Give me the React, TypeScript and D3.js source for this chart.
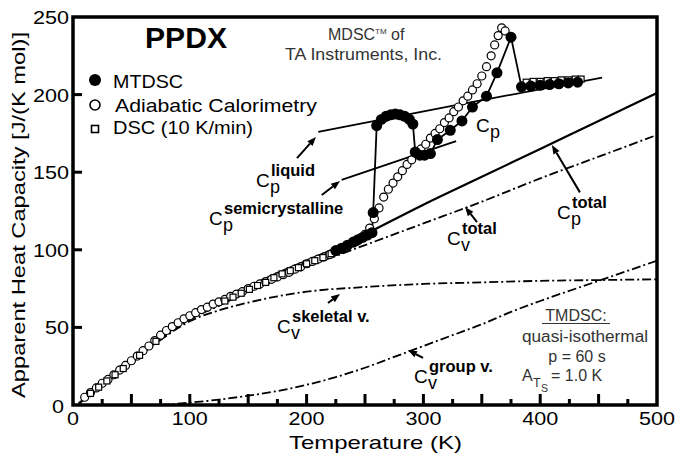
import * as d3 from 'd3';

// ---- data (T in K, Cp in J/(K mol)) ----
const xTicks = [0, 100, 200, 300, 400, 500];
const yTicks = [0, 50, 100, 150, 200, 250];

const cpTotal: [number, number][] = [
  [5, 1], [25, 13], [50, 28], [75, 43], [100, 57], [125, 66], [150, 76], [175, 85],
  [200, 93], [225, 101], [250, 110], [300, 129], [350, 147], [400, 165], [450, 183], [500, 201],
];
const cvTotal: [number, number][] = [
  [5, 1], [25, 13], [50, 28], [75, 42], [100, 55], [125, 64], [150, 73], [175, 81],
  [200, 89], [225, 96], [250, 103], [300, 117], [350, 131], [400, 146], [450, 160], [500, 174],
];
const cvSkeletal: [number, number][] = [
  [5, 1], [25, 13], [50, 28], [75, 42], [100, 54], [125, 61], [150, 66], [175, 70],
  [200, 73], [250, 76], [300, 78], [350, 79], [400, 80], [450, 80.5], [500, 81],
];
const cvGroup: [number, number][] = [
  [75, 0], [100, 1.5], [125, 3.5], [150, 6], [175, 9], [200, 13], [225, 18], [250, 24],
  [275, 31], [300, 38], [325, 45], [350, 52], [375, 60], [400, 67], [450, 80], [500, 93],
];
const cpLiquid: [number, number][] = [[210, 176], [330, 193.5], [453, 211]];
const cpSemicryst: [number, number][] = [[230, 145], [328, 170]];

const mtdsc: [number, number][] = [
  [225, 99.5], [230, 101], [235, 103], [240, 105], [244, 106.5], [248, 108], [252, 109.5],
  [256, 111], [257, 124], [260, 180], [264, 184], [268, 186], [272, 187], [276, 187.5],
  [280, 187], [284, 186], [288, 184], [291, 181], [293, 163], [297, 161], [301, 161],
  [306, 162], [312, 171], [323, 177], [333, 183], [342, 192], [354, 199], [363, 214],
  [375, 237], [384, 205], [392, 205.5], [400, 206], [408, 206.5], [416, 207], [424, 207.5], [432, 208],
];
const adiabatic: [number, number][] = [
  [10, 5], [15, 8], [20, 11], [25, 14], [30, 16.5], [35, 19.5], [40, 22.5], [45, 25.5],
  [50, 28.5], [55, 31.5], [60, 35], [65, 38], [70, 41.5], [75, 45], [80, 48], [85, 50.5],
  [90, 53], [95, 55.5], [100, 57.5], [105, 59.5], [110, 61.5], [115, 63], [120, 65],
  [125, 66.5], [130, 68], [135, 70], [140, 71.5], [145, 73], [150, 75], [155, 76.5],
  [160, 78], [165, 79.5], [170, 81], [175, 82.5], [180, 84], [185, 85.5], [190, 87.5],
  [195, 89], [200, 91], [205, 92.5], [210, 94], [215, 95.5], [220, 97], [225, 99],
  [230, 100.5], [235, 102.5], [240, 104.5], [245, 107], [250, 110], [254, 114], [258, 120],
  [262, 127], [266, 134], [270, 139], [274, 143], [278, 147], [282, 151], [286, 155],
  [290, 158], [294, 162], [298, 165], [302, 168], [306, 172], [310, 175], [314, 178],
  [318, 182], [322, 185], [326, 189], [330, 192], [334, 196], [338, 199], [342, 203],
  [346, 207], [350, 212], [354, 218], [358, 225], [361, 232], [364, 238], [367, 243], [370, 241],
];
const dsc: [number, number][] = [
  [15, 7.5], [22, 11.5], [29, 15.5], [36, 19.5], [43, 23.5], [57, 32], [71, 41],
  [130, 67], [137, 69.5], [144, 72], [151, 74.5], [158, 77], [165, 79], [172, 82],
  [179, 84.5], [186, 86.5], [193, 88.5], [200, 91], [207, 93], [214, 95], [221, 97.5],
  [228, 100], [235, 102], [242, 105],
  [388, 208], [394, 208.5], [400, 208.5], [406, 209], [412, 209], [418, 209.5],
  [424, 209.5], [430, 210], [435, 210],
];

// arrows [tail, tip] in data units
const arrows: [number, number][][] = [
  [[191.8, 159.1], [208, 172.7]],
  [[213, 135.3], [228.6, 144.3]],
  [[434, 137], [410, 167.5]],
  [[345.9, 117.9], [335.6, 127.6]],
  [[218.3, 65.7], [228.6, 71.5]],
  [[299.7, 30.3], [286.8, 35.4]],
];

const FONT = '"Liberation Sans", Arial, Helvetica, sans-serif';

const x = d3.scaleLinear().domain([0, 500]).range([73, 657]);
const y = d3.scaleLinear().domain([0, 250]).range([405, 17]);

const smooth = d3.line<[number, number]>().x(d => x(d[0])).y(d => y(d[1])).curve(d3.curveMonotoneX);
const straight = d3.line<[number, number]>().x(d => x(d[0])).y(d => y(d[1]));

const DASHDOT = '9,3,2,3';

function Lbl({ px, py, main, sub, sup }: { px: number; py: number; main: string; sub: string; sup?: string }) {
  return (
    <g fontFamily={FONT}>
      <text x={px} y={py} fontSize={19}>{main}</text>
      <text x={px + 14} y={py + 6} fontSize={18}>{sub}</text>
      {sup && <text x={px + 15} y={py - 11} fontSize={16.5} fontWeight="bold">{sup}</text>}
    </g>
  );
}

function Arrow({ a, b }: { a: [number, number]; b: [number, number] }) {
  const x1 = x(a[0]), y1 = y(a[1]), x2 = x(b[0]), y2 = y(b[1]);
  const ang = Math.atan2(y2 - y1, x2 - x1);
  const L = 9, W = 3.5;
  const bx = x2 - L * Math.cos(ang), by = y2 - L * Math.sin(ang);
  const p1 = [bx + W * Math.sin(ang), by - W * Math.cos(ang)];
  const p2 = [bx - W * Math.sin(ang), by + W * Math.cos(ang)];
  return (
    <g>
      <line x1={x1} y1={y1} x2={bx} y2={by} stroke="#000" strokeWidth={2} />
      <polygon points={`${x2},${y2} ${p1[0]},${p1[1]} ${p2[0]},${p2[1]}`} fill="#000" />
    </g>
  );
}

export default function App() {
  const minor = d3.range(25, 500, 50);
  const major = d3.range(50, 500, 50);
  return (
    <svg width={677} height={457} style={{ position: 'absolute', left: 0, top: 0, background: '#fff' }}>
      <rect width={677} height={457} fill="#fff" />

      {/* curves */}
      <path d={smooth(cvGroup) ?? ''} fill="none" stroke="#000" strokeWidth={1.8} strokeDasharray={DASHDOT} />
      <path d={smooth(cvSkeletal) ?? ''} fill="none" stroke="#000" strokeWidth={1.8} strokeDasharray={DASHDOT} />
      <path d={smooth(cvTotal) ?? ''} fill="none" stroke="#000" strokeWidth={1.8} strokeDasharray={DASHDOT} />
      <path d={smooth(cpTotal) ?? ''} fill="none" stroke="#000" strokeWidth={2.2} />
      <path d={straight(cpLiquid) ?? ''} fill="none" stroke="#000" strokeWidth={1.8} />
      <path d={straight(cpSemicryst) ?? ''} fill="none" stroke="#000" strokeWidth={1.8} />
      <path d={straight(mtdsc) ?? ''} fill="none" stroke="#000" strokeWidth={1.8} />

      {/* markers */}
      {adiabatic.map((d, i) => (
        <circle key={'a' + i} cx={x(d[0])} cy={y(d[1])} r={4} fill="#fff" stroke="#000" strokeWidth={1.2} />
      ))}
      {dsc.map((d, i) => (
        <rect key={'s' + i} x={x(d[0]) - 3} y={y(d[1]) - 3} width={6} height={6} fill="#fff" stroke="#000" strokeWidth={1.2} />
      ))}
      {mtdsc.map((d, i) => (
        <circle key={'m' + i} cx={x(d[0])} cy={y(d[1])} r={5.5} fill="#000" />
      ))}

      {arrows.map((a, i) => <Arrow key={'ar' + i} a={a[0]} b={a[1]} />)}

      {/* frame */}
      <rect x={73} y={17} width={584} height={388} fill="none" stroke="#000" strokeWidth={3.5} />
      {major.map(t => <line key={'M' + t} x1={x(t)} x2={x(t)} y1={405} y2={394} stroke="#000" strokeWidth={3} />)}
      {minor.map(t => <line key={'m' + t} x1={x(t)} x2={x(t)} y1={405} y2={399} stroke="#000" strokeWidth={3} />)}
      {yTicks.slice(1, -1).map(v => <line key={'y' + v} x1={73} x2={82} y1={y(v)} y2={y(v)} stroke="#000" strokeWidth={3} />)}

      {/* tick labels */}
      <g fontFamily={FONT} fontSize={18} fill="#000">
        {xTicks.map(t => (
          <text key={'xt' + t} x={x(t)} y={425} textAnchor="middle" textLength={String(t).length * 12} lengthAdjust="spacingAndGlyphs">{t}</text>
        ))}
        {yTicks.map(v => (
          <text key={'yt' + v} x={v === 0 ? 64 : 69} y={y(v) + (v === 0 ? 8 : 7)} textAnchor="end" textLength={String(v).length * 12} lengthAdjust="spacingAndGlyphs">{v}</text>
        ))}
      </g>

      {/* axis titles */}
      <text x={289} y={449} fontFamily={FONT} fontSize={18.5} textLength={173} lengthAdjust="spacingAndGlyphs">Temperature  (K)</text>
      <text transform="translate(25,215) rotate(-90)" textAnchor="middle" fontFamily={FONT} fontSize={18.5} textLength={366} lengthAdjust="spacingAndGlyphs">Apparent Heat Capacity  [J/(K mol)]</text>

      {/* title + legend */}
      <text x={145} y={48} fontFamily={FONT} fontSize={29} fontWeight="bold" textLength={82} lengthAdjust="spacingAndGlyphs">PPDX</text>
      <circle cx={95} cy={80} r={6} fill="#000" />
      <text x={113} y={88} fontFamily={FONT} fontSize={18.5} textLength={70} lengthAdjust="spacingAndGlyphs">MTDSC</text>
      <circle cx={95} cy={105} r={5} fill="#fff" stroke="#000" strokeWidth={1.6} />
      <text x={115} y={112} fontFamily={FONT} fontSize={18.5} textLength={202} lengthAdjust="spacingAndGlyphs">Adiabatic Calorimetry</text>
      <rect x={91.5} y={125.5} width={7} height={7} fill="#fff" stroke="#000" strokeWidth={1.6} />
      <text x={113} y={134} fontFamily={FONT} fontSize={18.5} textLength={140} lengthAdjust="spacingAndGlyphs">DSC (10 K/min)</text>

      {/* instrument note */}
      <g fontFamily={FONT} fill="#333">
        <text x={328} y={40} fontSize={16}>MDSC<tspan fontSize={8} dy={-6}>TM</tspan><tspan dy={6}> of</tspan></text>
        <text x={285} y={60} fontSize={16} textLength={157} lengthAdjust="spacingAndGlyphs">TA Instruments, Inc.</text>
      </g>

      {/* curve labels */}
      <Lbl px={256} py={187} main="C" sub="p" sup="liquid" />
      <Lbl px={209} py={225} main="C" sub="p" sup="semicrystalline" />
      <Lbl px={476} py={132} main="C" sub="p" />
      <Lbl px={557} py={219} main="C" sub="p" sup="total" />
      <Lbl px={447} py={245} main="C" sub="v" sup="total" />
      <Lbl px={277} py={333} main="C" sub="v" sup="skeletal v." />
      <Lbl px={414} py={383} main="C" sub="v" sup="group v." />

      {/* conditions box */}
      <g fontFamily={FONT} fontSize={16} fill="#333">
        <text x={576} y={321} textAnchor="middle">TMDSC:</text>
        <line x1={542} x2={610} y1={323.5} y2={323.5} stroke="#333" strokeWidth={1.2} />
        <text x={585} y={342} textAnchor="middle" textLength={126} lengthAdjust="spacingAndGlyphs">quasi-isothermal</text>
        <text x={577} y={362} textAnchor="middle">p = 60 s</text>
        <text x={522} y={381}>A</text>
        <text x={533} y={387} fontSize={12.5}>T</text>
        <text x={541} y={392} fontSize={10.5}>S</text>
        <text x={551} y={381}>= 1.0 K</text>
      </g>
    </svg>
  );
}
